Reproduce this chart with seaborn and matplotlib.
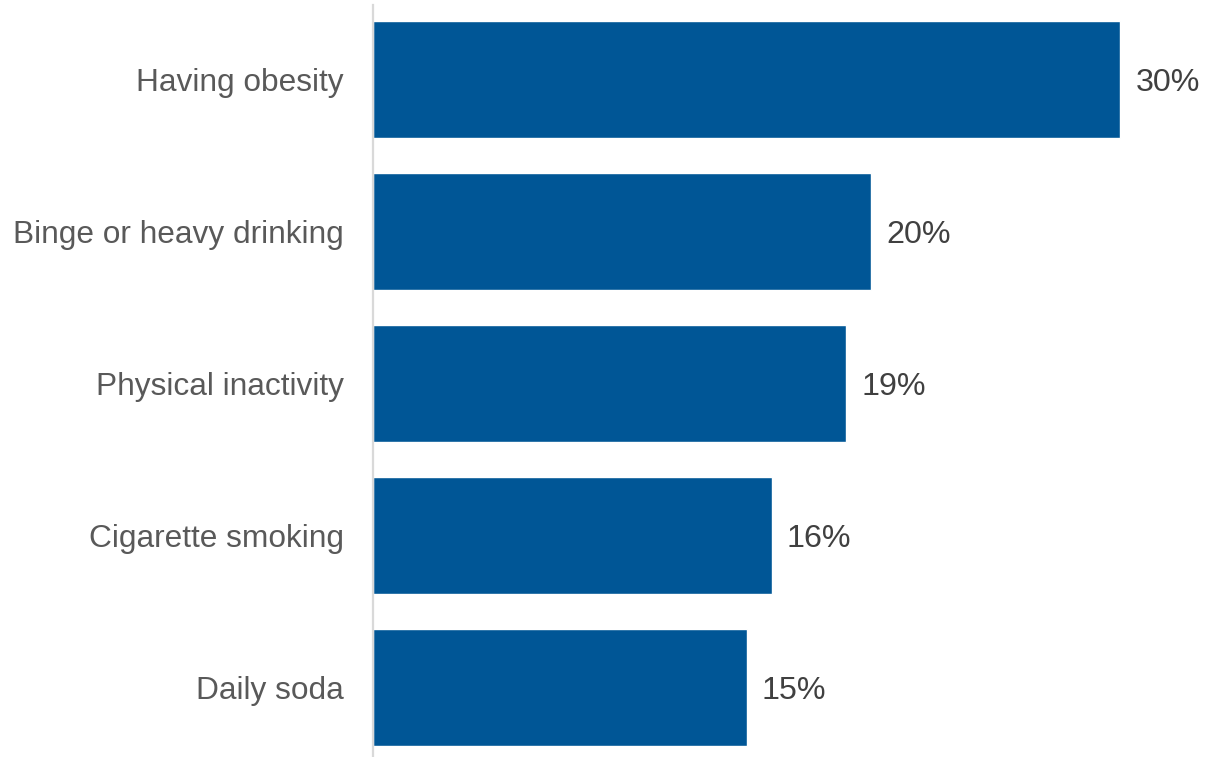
import matplotlib
matplotlib.use("Agg")
import matplotlib.pyplot as plt
import seaborn as sns
import pandas as pd

categories = ["Having obesity", "Binge or heavy drinking", "Physical inactivity",
              "Cigarette smoking", "Daily soda"]
values = [30, 20, 19, 16, 15]

df = pd.DataFrame({"behavior": categories, "pct": values})

sns.set_theme(style="white")
plt.rcParams["font.family"] = ["Liberation Sans", "DejaVu Sans"]

fig = plt.figure(figsize=(12.05, 7.57), dpi=100)
ax = fig.add_axes([373 / 1205, 0.0, 1 - 373 / 1205, 752 / 757])

sns.barplot(data=df, x="pct", y="behavior", orient="h", color="#005696",
            saturation=1, width=0.77, ax=ax)

ax.set_xlim(0, 33.4)
ax.set_ylim(4.46, -0.49)

for i, v in enumerate(values):
    ax.annotate(f"{v}%", xy=(v, i), xytext=(11, 0), textcoords="offset points",
                ha="left", va="center_baseline", fontsize=23.2, color="#404040")

ax.set_xlabel("")
ax.set_ylabel("")
ax.set_xticks([])
ax.tick_params(axis="y", length=0, pad=21, labelsize=22.8, labelcolor="#595959")

for side in ["top", "right", "bottom"]:
    ax.spines[side].set_visible(False)
ax.spines["left"].set_color("#d9d9d9")
ax.spines["left"].set_linewidth(1.6)

fig.savefig("out.png", dpi=100, facecolor="white")
